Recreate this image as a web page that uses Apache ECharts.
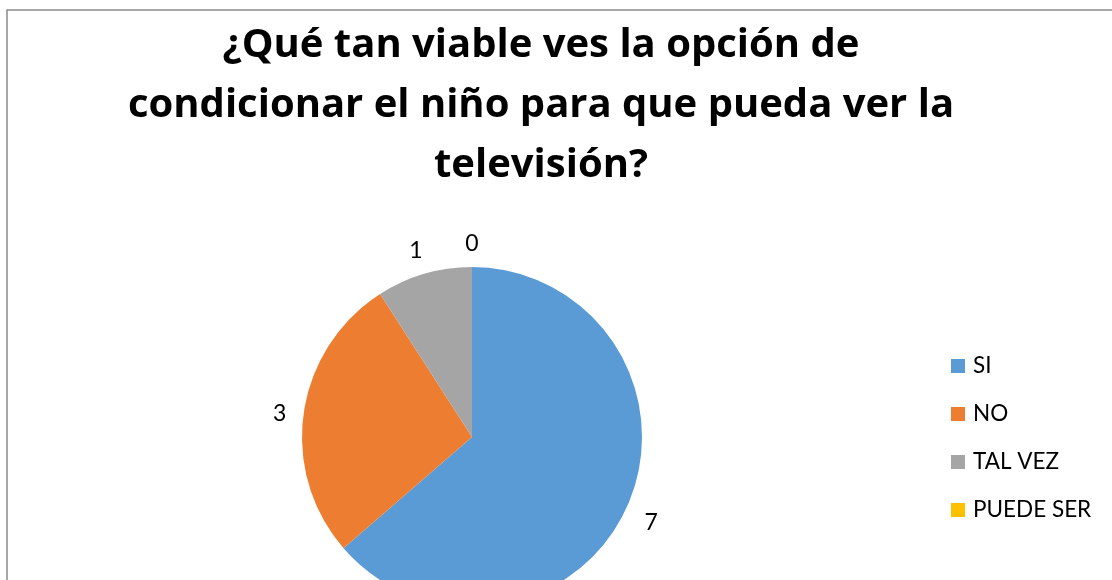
<!DOCTYPE html>
<html>
<head>
<meta charset="utf-8">
<script src="https://cdn.jsdelivr.net/npm/echarts@6/dist/echarts.min.js"></script>
<style>
html,body{margin:0;padding:0;background:#fff;}
#c{width:1112px;height:580px;}
</style>
</head>
<body>
<div id="c"></div>
<script>
const titleText = "¿Qué tan viable ves la opción de\ncondicionar el niño para que pueda ver la\ntelevisión?";
const categories = ["SI", "NO", "TAL VEZ", "PUEDE SER"];
const values = [7, 3, 1, 0];
const colors = ["#5B9BD5", "#ED7D31", "#A5A5A5", "#FFC000"];

const CX = 472, CY = 437, R = 170, GAP = 16;
const total = values.reduce((a, b) => a + b, 0);
// mid angles (radians) of each slice, starting at 90deg and going clockwise
const midAngles = [];
(function () {
  let acc = 0;
  values.forEach(v => {
    const start = 90 - acc / total * 360;
    const end = 90 - (acc + v) / total * 360;
    midAngles.push((start + end) / 2 * Math.PI / 180);
    acc += v;
  });
})();

const chart = echarts.init(document.getElementById('c'));
const FONT = "Lato, 'Open Sans', sans-serif";
chart.setOption({
  animation: false,
  color: colors,
  title: {
    text: titleText,
    left: 536,
    top: 11,
    textAlign: 'center',
    textStyle: {
      fontFamily: "'Open Sans', sans-serif",
      fontWeight: 'bold',
      fontSize: 40,
      lineHeight: 60,
      color: '#000'
    }
  },
  legend: {
    orient: 'vertical',
    left: 946,
    top: 349,
    itemWidth: 14,
    itemHeight: 14,
    itemGap: 24,
    icon: 'rect',
    data: categories,
    textStyle: { fontFamily: FONT, fontSize: 22.5, lineHeight: 24, color: '#000', padding: [0, 0, 0, 3] }
  },
  graphic: [{
    type: 'rect',
    shape: { x: 7, y: 10, width: 1200, height: 700 },
    style: { fill: 'none', stroke: '#8a8a8a', lineWidth: 1.5 },
    silent: true
  }],
  series: [{
    type: 'pie',
    center: [CX, CY],
    radius: R,
    startAngle: 90,
    clockwise: true,
    avoidLabelOverlap: false,
    stillShowZeroSum: true,
    data: categories.map((c, i) => ({ name: c, value: values[i] })),
    label: {
      show: true,
      position: 'outside',
      formatter: '{c}',
      fontFamily: FONT,
      fontSize: 23,
      color: '#000'
    },
    labelLine: { show: false, length: 18, length2: 0 },
    labelLayout: function (p) {
      const a = midAngles[p.dataIndex];
      const dx = Math.cos(a), dy = -Math.sin(a);
      const w = p.labelRect.width, h = p.labelRect.height;
      const d = R + GAP + Math.abs(dx) * w / 2 + Math.abs(dy) * h / 2;
      return { x: CX + dx * d, y: CY + dy * d + 4, align: 'center', verticalAlign: 'middle' };
    },
    itemStyle: { borderWidth: 0 }
  }]
});
</script>
</body>
</html>
